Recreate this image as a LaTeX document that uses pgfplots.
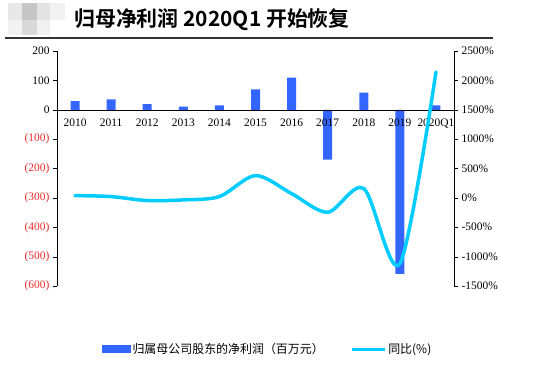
\documentclass[border=0pt]{standalone}
\usepackage{pgfplots}
\pgfplotsset{compat=1.18}
\usepackage{fontspec}
\setmainfont{Liberation Serif}
\newfontfamily\cjk{Noto Sans CJK SC}
\newfontfamily\cjkb{Noto Sans CJK SC Bold}
\definecolor{barblue}{RGB}{51,102,255}
\definecolor{linecyan}{RGB}{0,204,255}
\definecolor{negred}{RGB}{240,40,40}
\begin{document}
\begin{tikzpicture}
\path[use as bounding box] (0,0) rectangle (548bp,371bp);
% blurred logo
\fill[gray!18] (8bp,351bp) rectangle (22bp,368bp);
\fill[gray!45] (22bp,351bp) rectangle (37bp,368bp);
\fill[gray!22] (37bp,351bp) rectangle (50bp,368bp);
\fill[gray!10] (50bp,351bp) rectangle (65bp,368bp);
\fill[gray!10] (8bp,336bp) rectangle (22bp,351bp);
\fill[gray!30] (22bp,336bp) rectangle (37bp,351bp);
\fill[gray!12] (37bp,336bp) rectangle (50bp,351bp);
\node[anchor=west,inner sep=0pt] at (74bp,351bp) {\cjkb\fontsize{21}{24}\selectfont 归母净利润 2020Q1 开始恢复};
\draw[line width=1.6bp,black!80] (5bp,333bp) -- (493bp,333bp);

\begin{axis}[
  at={(57bp,85bp)}, anchor=south west,
  scale only axis, width=397bp, height=235bp,
  axis on top,
  xmin=-0.5, xmax=10.5,
  ymin=-600, ymax=200,
  axis x line=middle, axis y line=left,
  x axis line style={-, black}, y axis line style={-, black, line width=0.9bp},
  xtick={0,...,10},
  xticklabels={2010,2011,2012,2013,2014,2015,2016,2017,2018,2019,2020Q1},
  major x tick style={draw=none},
  extra x ticks={0.5,1.5,...,9.5},
  extra x tick labels={},
  extra x tick style={tick align=outside, major tick length=4bp, tick style={draw=black}},
  x tick label style={font=\fontsize{11.5}{13}\selectfont, yshift=-4bp, inner sep=1pt},
  ytick={-600,-500,...,200},
  yticklabels={\textcolor{negred}{(600)},\textcolor{negred}{(500)},\textcolor{negred}{(400)},\textcolor{negred}{(300)},\textcolor{negred}{(200)},\textcolor{negred}{(100)},0,100,200},
  y tick label style={font=\fontsize{11.5}{13}\selectfont},
  tick align=outside, major tick length=4bp,
  ytick style={black},
  legend style={draw=none, at={(0.53,-0.27)}, anchor=center, font=\cjk\fontsize{12}{14}\selectfont, legend columns=2,
    /tikz/every even column/.append style={column sep=24bp}},
  legend cell align=left,
]
\addplot[ybar, bar width=9bp, fill=barblue, draw=none,
  legend image code/.code={\fill[barblue] (0bp,-4bp) rectangle (29bp,4bp);}]
  coordinates {(0,29) (1,35) (2,19) (3,11) (4,15) (5,69) (6,109) (7,-170) (8,58) (9,-559) (10,15)};
\addlegendentry{归属母公司股东的净利润（百万元）}
\addlegendimage{linecyan, line width=3.5bp, legend image code/.code={\draw[linecyan, line width=3.5bp] (0bp,0bp) -- (33bp,0bp);}}
\addlegendentry{同比(\%)}
\end{axis}

\begin{axis}[
  at={(57bp,85bp)}, anchor=south west,
  scale only axis, width=397bp, height=235bp,
  xmin=-0.5, xmax=10.5,
  ymin=-1500, ymax=2500,
  axis x line=none, axis y line*=right,
  y axis line style={-, black, line width=0.9bp},
  ytick={-1500,-1000,...,2500},
  yticklabel={\pgfmathprintnumber[assume math mode=true,1000 sep={}]{\tick}\%},
  y tick label style={font=\fontsize{11.5}{13}\selectfont},
  tick align=outside, major tick length=4bp,
  ytick style={black},
]
\addplot[linecyan, line width=3.5bp, smooth, line cap=round]
  coordinates {(0,39) (1,22) (2,-46) (3,-34) (4,22) (5,380) (6,73) (7,-245) (8,160) (9,-1120) (10,2143)};
\end{axis}
\end{tikzpicture}
\end{document}
